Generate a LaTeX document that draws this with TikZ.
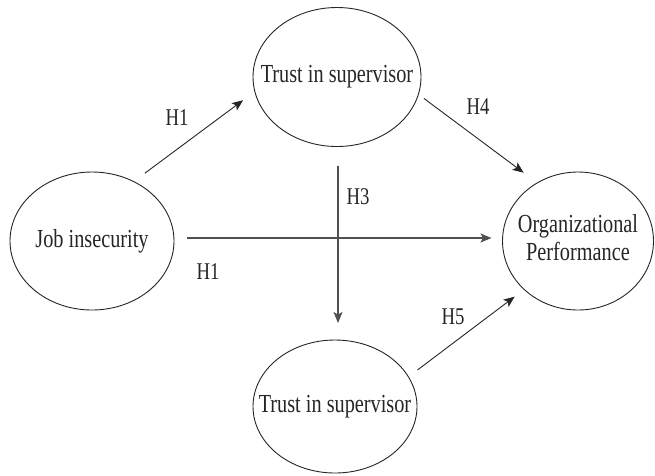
\documentclass[tikz,border=0pt]{standalone}
\usepackage{fontspec}
\setmainfont[FakeStretch=0.78]{Liberation Serif}
\usetikzlibrary{shapes.geometric,arrows.meta}
\definecolor{ink}{HTML}{262626}
\definecolor{lightink}{HTML}{505050}
\tikzset{
  construct/.style={ellipse, draw=ink, line width=0.9pt, inner sep=0pt, outer sep=0pt,
    text=ink, font=\fontsize{26}{28}\selectfont},
  hyp/.style={text=ink, font=\fontsize{24}{26}\selectfont, inner sep=0pt},
  arr/.style={draw=ink, line width=0.9pt, -{Stealth[length=11pt,width=9pt,inset=2.5pt]}},
  arrgray/.style={draw=lightink, line width=1.1pt, -{Stealth[length=11pt,width=9pt,inset=2.5pt]}}
}
\begin{document}
\begin{tikzpicture}[x=1pt,y=-1pt]
\useasboundingbox (0,0) rectangle (655,475);
\fill[white] (0,0) rectangle (655,475);

\node[construct, minimum width=164pt, minimum height=138pt] (js) at (92,241)
  {\makebox[0pt]{Job insecurity}};
\node[construct, minimum width=168pt, minimum height=139pt] (ts) at (337,77)
  {\makebox[0pt]{Trust in supervisor}};
\node[construct, minimum width=151pt, minimum height=138pt] (op) at (578,241)
  {\makebox[0pt]{\begin{tabular}{@{}c@{}}Organizational\\Performance\end{tabular}}};
\node[construct, minimum width=164pt, minimum height=133pt] (tsb) at (335,406.5)
  {\makebox[0pt]{Trust in supervisor}};

% H1 upper
\draw[arr, shorten <=14pt, shorten >=14.7pt] (js.55) -- (ts.190);
% H4
\draw[arr, shorten <=7pt, shorten >=17pt] (ts.-12.3) -- (op.125.6);
% H5
\draw[arr, shorten <=11.5pt, shorten >=12pt] (tsb.22.9) -- (op.222.5);
% H3 vertical
\draw[arrgray, shorten <=19pt, shorten >=17pt] ([xshift=1pt]ts.south) -- ([xshift=1pt]ts.south |- tsb.north);
% H1 horizontal
\draw[arrgray, shorten <=13pt, shorten >=11pt] ([yshift=3pt]js.east) -- ([yshift=3pt]js.east -| op.west);

\node[hyp] (h1a) at (177,118) {H1};
\node[hyp] (h4) at (478,107) {H4};
\node[hyp] (h3) at (358,197) {H3};
\node[hyp] (h1b) at (208,272) {H1};
\node[hyp] (h5) at (453,317) {H5};
\end{tikzpicture}
\end{document}
